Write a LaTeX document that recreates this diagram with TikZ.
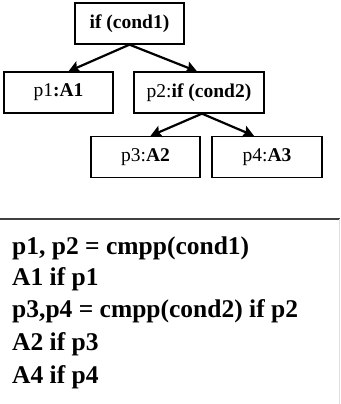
\documentclass[tikz,border=0pt]{standalone}
\usepackage{fontspec}
\setmainfont{Liberation Serif}
\usetikzlibrary{arrows.meta,calc}
\begin{document}
\begin{tikzpicture}[x=1pt,y=-1pt,
  treebox/.style={draw, line width=1.3pt, minimum height=41pt, inner sep=0pt,
    font=\fontsize{19.5}{21}\selectfont},
  edge/.style={line width=2.2pt, -{Stealth[length=11pt,width=12pt,inset=2pt]}},
  code/.style={anchor=base west, inner sep=0pt,
    font=\bfseries\fontsize{25.5}{28}\selectfont}]
\useasboundingbox (0,0) rectangle (340,404);

% decision tree
\node[treebox, minimum width=109pt] (root) at (129.5,23.5) {\textbf{if (cond1)}};
\node[treebox, minimum width=109pt] (p1) at (58.5,92.5) {p1\textbf{:A1}};
\node[treebox, minimum width=130pt] (p2) at (199,92.5) {p2:\textbf{if (cond2)}};
\node[treebox, minimum width=109pt] (p3) at (145.5,157) {p3:\textbf{A2}};
\node[treebox, minimum width=110pt] (p4) at (267,157) {p4:\textbf{A3}};

\draw[edge] (root.south) -- ($(p1.north)+(10,0)$);
\draw[edge] (root.south) -- ($(p2.north)+(-2,0)$);
\draw[edge] ($(p2.south)+(3,0)$) -- ($(p3.north)+(5,0)$);
\draw[edge] ($(p2.south)+(3,0)$) -- ($(p4.north)+(-13,0)$);

% predicated code panel
\coordinate (panelL) at (0,219);
\coordinate (panelR) at (340,219);
\coordinate (panelB) at (339.5,404);
\draw[line width=1.3pt, black!75] (panelL) -- (panelR);
\draw[line width=0.6pt, black!12] ($(panelR)+(-0.5,0)$) -- (panelB);

\node[code] (l1) at (12,254) {p1, p2 = cmpp(cond1)};
\node[code] (l2) at (12,285) {A1 if p1};
\node[code] (l3) at (12,317) {p3,p4 = cmpp(cond2) if p2};
\node[code] (l4) at (12,350) {A2 if p3};
\node[code] (l5) at (12,383) {A4 if p4};
\end{tikzpicture}
\end{document}
